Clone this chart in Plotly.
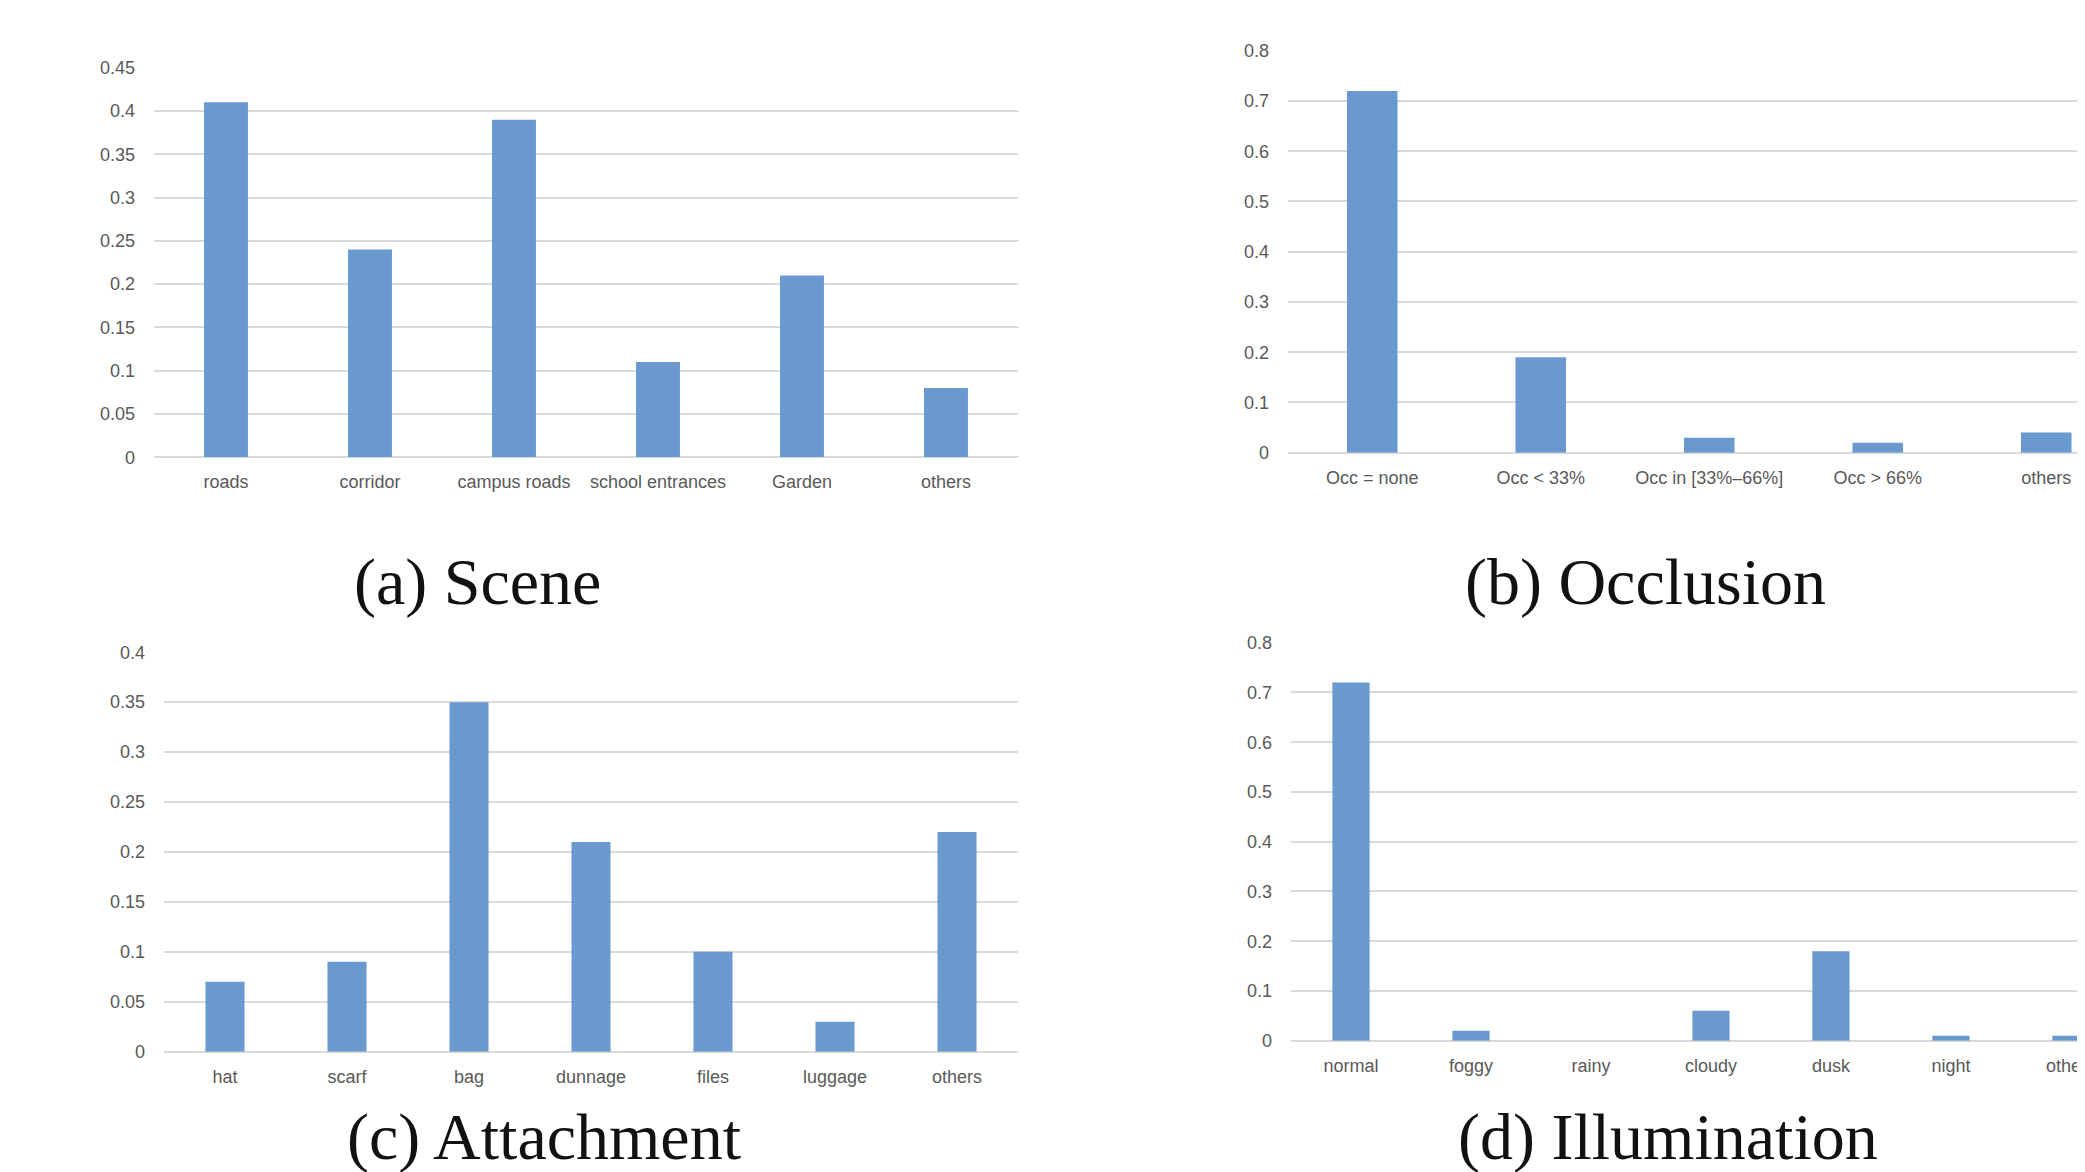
import plotly.graph_objects as go

# ---- data ----
scene_cats = ["roads", "corridor", "campus roads", "school entrances", "Garden", "others"]
scene_vals = [0.41, 0.24, 0.39, 0.11, 0.21, 0.08]

occ_cats = ["Occ = none", "Occ < 33%", "Occ in [33%–66%]", "Occ > 66%", "others"]
occ_vals = [0.72, 0.19, 0.03, 0.02, 0.04]

att_cats = ["hat", "scarf", "bag", "dunnage", "files", "luggage", "others"]
att_vals = [0.07, 0.09, 0.35, 0.21, 0.10, 0.03, 0.22]

ill_cats = ["normal", "foggy", "rainy", "cloudy", "dusk", "night", "others"]
ill_vals = [0.72, 0.02, 0.0, 0.06, 0.18, 0.01, 0.01]

titles = ["(a) Scene", "(b) Occlusion", "(c) Attachment", "(d) Illumination"]

# ---- style ----
BAR = "#6A99D0"
GRID = "#D9D9D9"
TICK_FONT = dict(family="Liberation Sans, Arial, sans-serif", size=18, color="#595959")
TITLE_FONT = dict(family="Liberation Serif, Times New Roman, serif", size=66, color="#111111")

# page body has an 8px margin; figure sized to fill the rest of the window
W, H = 2077, 1164

fig = go.Figure()

panels = [
    # cats, vals, xdomain(px), ydomain(px from top: bottom, top), yrange, dtick, xrange, bargap
    (scene_cats, scene_vals, (146, 1010), (449.3, 59.7), [0, 0.45], 0.05, None, 0.695),
    (occ_cats, occ_vals, (1280, W), (444.7, 42.7), [0, 0.8], 0.1, [-0.5, 4.23], 0.70),
    (att_cats, att_vals, (156, 1010), (1043.7, 644.2), [0, 0.4], 0.05, None, 0.68),
    (ill_cats, ill_vals, (1283, W), (1032.7, 634.7), [0, 0.8], 0.1, [-0.5, 6.117], 0.69),
]

layout = dict(
    width=W, height=H,
    margin=dict(l=0, r=0, t=0, b=0),
    paper_bgcolor="white", plot_bgcolor="white",
    showlegend=False,
)

for i, (cats, vals, xd, yd, yr, dt, xr, gap) in enumerate(panels, start=1):
    xa = "x" if i == 1 else f"x{i}"
    ya = "y" if i == 1 else f"y{i}"
    fig.add_trace(go.Bar(
        x=cats, y=vals, xaxis=xa, yaxis=ya,
        marker=dict(color=BAR, line=dict(width=0)),
        width=1 - gap,
        hoverinfo="x+y",
    ))
    xkey = "xaxis" if i == 1 else f"xaxis{i}"
    ykey = "yaxis" if i == 1 else f"yaxis{i}"
    xaxis = dict(
        domain=[xd[0] / W, min(1.0, xd[1] / W)], anchor=ya, type="category",
        showgrid=False, showline=False, zeroline=False,
        ticks="", tickfont=TICK_FONT, ticklabelstandoff=12,
        fixedrange=True, automargin=False,
        range=xr if xr is not None else [-0.5, len(cats) - 0.5],
    )
    layout[xkey] = xaxis
    layout[ykey] = dict(
        domain=[1 - yd[0] / H, 1 - yd[1] / H], anchor=xa, range=yr, dtick=dt, tick0=0,
        showgrid=True, gridcolor=GRID, gridwidth=1.5,
        zeroline=True, zerolinecolor=GRID, zerolinewidth=1.5,
        showline=False, ticks="", tickfont=TICK_FONT, ticklabelstandoff=18,
        tickformat="~g", fixedrange=True, automargin=False,
    )

fig.update_layout(**layout)

title_pos = [(469, 574), (1637, 574), (536, 1129), (1660, 1129)]
for t, (x, y) in zip(titles, title_pos):
    fig.add_annotation(text=t, x=x / W, y=1 - y / H, xref="paper", yref="paper",
                       xanchor="center", yanchor="middle", showarrow=False,
                       font=TITLE_FONT)

fig.write_html("out.html")
